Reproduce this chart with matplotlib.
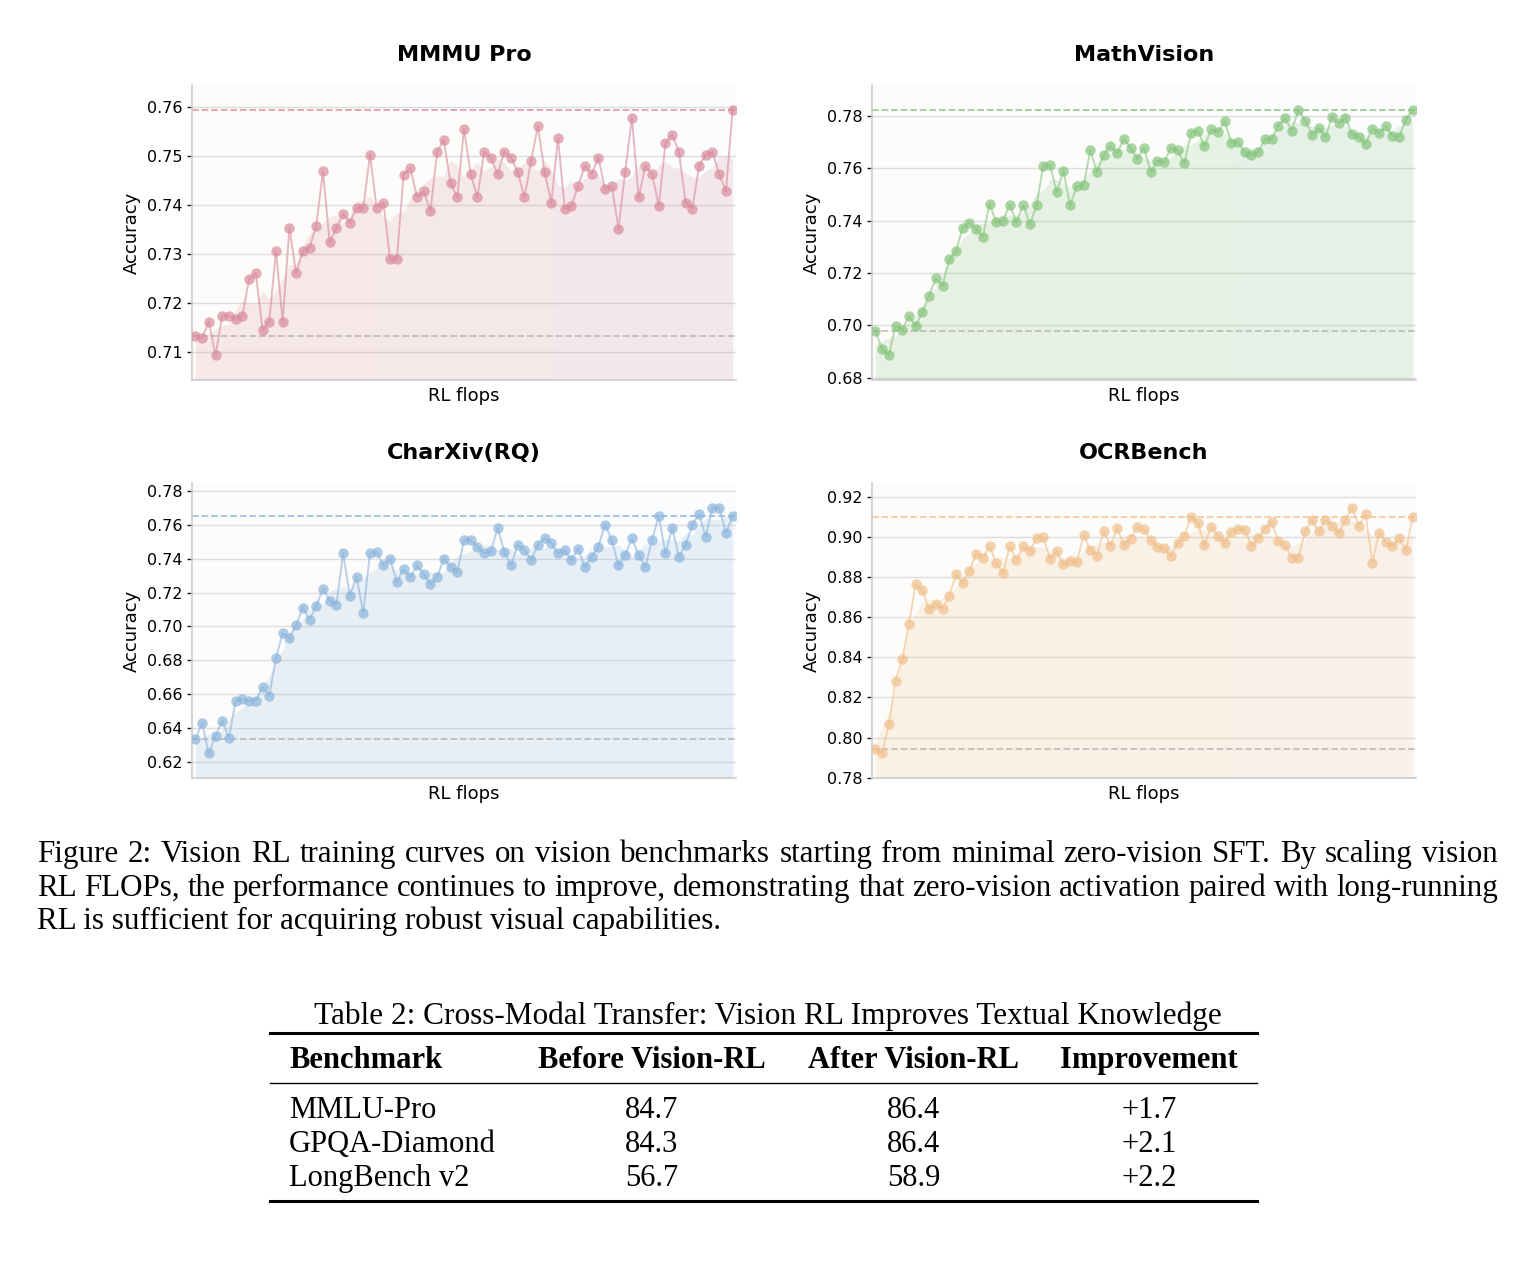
import matplotlib
matplotlib.use('Agg')
import matplotlib.pyplot as plt
import numpy as np
import pandas as pd
from matplotlib.lines import Line2D

# accuracy per RL checkpoint
mmmu_pro = [0.7133, 0.7128, 0.7162, 0.7093, 0.7174, 0.7174, 0.7167, 0.7174, 0.7249, 0.7261,
            0.7145, 0.7162, 0.7306, 0.7162, 0.7353, 0.7261, 0.7306, 0.7313, 0.7358, 0.7469,
            0.7324, 0.7353, 0.7382, 0.7364, 0.7394, 0.7394, 0.7503, 0.7394, 0.7405, 0.7289,
            0.7289, 0.7462, 0.7475, 0.7417, 0.7428, 0.7387, 0.7509, 0.7533, 0.7445, 0.7416,
            0.7555, 0.7463, 0.7416, 0.7509, 0.7497, 0.7463, 0.7509, 0.7497, 0.7468, 0.7416,
            0.7491, 0.7561, 0.7468, 0.7405, 0.7537, 0.7393, 0.7399, 0.7439, 0.7480, 0.7463,
            0.7497, 0.7433, 0.7439, 0.7352, 0.7468, 0.7578, 0.7416, 0.7480, 0.7463, 0.7399,
            0.7526, 0.7544, 0.7509, 0.7405, 0.7393, 0.7480, 0.7503, 0.7509, 0.7463, 0.7428,
            0.7595]
math_vision = [0.6980, 0.6908, 0.6885, 0.6997, 0.6982, 0.7037, 0.6997, 0.7052, 0.7112, 0.7180,
               0.7152, 0.7253, 0.7284, 0.7373, 0.7391, 0.7369, 0.7339, 0.7465, 0.7394, 0.7400,
               0.7462, 0.7394, 0.7462, 0.7386, 0.7459, 0.7611, 0.7614, 0.7511, 0.7590, 0.7459,
               0.7531, 0.7535, 0.7669, 0.7586, 0.7652, 0.7685, 0.7659, 0.7712, 0.7679, 0.7637,
               0.7678, 0.7586, 0.7629, 0.7623, 0.7678, 0.7669, 0.7619, 0.7735, 0.7745, 0.7685,
               0.7749, 0.7739, 0.7781, 0.7698, 0.7701, 0.7662, 0.7650, 0.7662, 0.7712, 0.7712,
               0.7764, 0.7792, 0.7745, 0.7824, 0.7783, 0.7729, 0.7754, 0.7721, 0.7796, 0.7773,
               0.7794, 0.7731, 0.7721, 0.7694, 0.7752, 0.7735, 0.7761, 0.7725, 0.7721, 0.7787,
               0.7825]
charxiv_rq = [0.6332, 0.6430, 0.6249, 0.6353, 0.6442, 0.6339, 0.6561, 0.6569, 0.6561, 0.6561,
              0.6642, 0.6591, 0.6811, 0.6960, 0.6930, 0.7009, 0.7111, 0.7040, 0.7121, 0.7221,
              0.7152, 0.7127, 0.7431, 0.7182, 0.7292, 0.7080, 0.7431, 0.7441, 0.7360, 0.7400,
              0.7260, 0.7341, 0.7290, 0.7360, 0.7309, 0.7250, 0.7290, 0.7400, 0.7350, 0.7321,
              0.7509, 0.7509, 0.7470, 0.7431, 0.7443, 0.7582, 0.7441, 0.7360, 0.7482, 0.7451,
              0.7392, 0.7482, 0.7521, 0.7492, 0.7431, 0.7451, 0.7392, 0.7460, 0.7350, 0.7411,
              0.7470, 0.7602, 0.7509, 0.7360, 0.7421, 0.7521, 0.7421, 0.7350, 0.7509, 0.7653,
              0.7431, 0.7582, 0.7411, 0.7482, 0.7602, 0.7663, 0.7531, 0.7702, 0.7702, 0.7553,
              0.7653]
ocrbench = [0.7943, 0.7921, 0.8066, 0.8283, 0.8391, 0.8565, 0.8764, 0.8737, 0.8639, 0.8666,
            0.8643, 0.8704, 0.8815, 0.8770, 0.8830, 0.8916, 0.8897, 0.8953, 0.8872, 0.8819,
            0.8953, 0.8887, 0.8953, 0.8931, 0.8994, 0.8999, 0.8890, 0.8928, 0.8865, 0.8882,
            0.8875, 0.9011, 0.8936, 0.8908, 0.9031, 0.8956, 0.9047, 0.8960, 0.8991, 0.9049,
            0.9039, 0.8983, 0.8950, 0.8943, 0.8906, 0.8968, 0.9006, 0.9102, 0.9072, 0.8960,
            0.9052, 0.9003, 0.8971, 0.9024, 0.9041, 0.9036, 0.8956, 0.8994, 0.9039, 0.9074,
            0.8981, 0.8961, 0.8898, 0.8898, 0.9028, 0.9084, 0.9028, 0.9086, 0.9057, 0.9019,
            0.9086, 0.9147, 0.9057, 0.9114, 0.8873, 0.9021, 0.8974, 0.8955, 0.8994, 0.8933,
            0.9102]

panel_titles = ['MMMU Pro', 'MathVision', 'CharXiv(RQ)', 'OCRBench']
panel_colors = ['#d98a9c', '#85c47c', '#8ab4dc', '#f0bf8a']
phase_colors = ['#fdfcfa', '#fcfdfb', '#fbfcfe']

caption_lines = [
    'Figure 2: Vision RL training curves on vision benchmarks starting from minimal zero-vision SFT. By scaling vision',
    'RL FLOPs, the performance continues to improve, demonstrating that zero-vision activation paired with long-running',
    'RL is sufficient for acquiring robust visual capabilities.',
]

table_title = 'Table 2: Cross-Modal Transfer: Vision RL Improves Textual Knowledge'
table_header = ['Benchmark', 'Before Vision-RL', 'After Vision-RL', 'Improvement']
table_benchmarks = ['MMLU-Pro', 'GPQA-Diamond', 'LongBench v2']
before_rl = [84.7, 84.3, 56.7]
after_rl = [86.4, 86.4, 58.9]

W, H = 1536, 1262
SERIF = 'Liberation Serif'


def draw_panel(ax, values, title, color):
    y = np.asarray(values)
    x = np.arange(len(y))
    lo, hi = y.min(), y.max()
    pad = 0.1 * (hi - lo)
    bottom = lo - pad
    ax.set_xlim(-0.5, len(y) - 0.5)
    ax.set_ylim(bottom, hi + pad)

    edges = np.linspace(-0.5, len(y) - 0.5, 4)
    for a, b, c in zip(edges[:-1], edges[1:], phase_colors):
        ax.axvspan(a, b, color=c, lw=0, zorder=0)

    smooth = pd.Series(y).rolling(5, center=True, min_periods=1).mean()
    ax.fill_between(x, smooth, bottom, color=color, alpha=0.18, lw=0, zorder=1)

    ax.axhline(y[0], color='#aaaaaa', ls='--', lw=1.3, alpha=0.7, zorder=2)
    ax.axhline(y[-1], color=color, ls='--', lw=1.3, alpha=0.8, zorder=2)
    ax.plot(x, y, '-', color=color, lw=1.4, alpha=0.6, zorder=3)
    ax.plot(x, y, 'o', color=color, ms=7.5, mew=0, alpha=0.7, zorder=3)

    ax.grid(axis='y', color='#dddddd', lw=1)
    ax.set_axisbelow(True)
    for s in ['top', 'right']:
        ax.spines[s].set_visible(False)
    for s in ['left', 'bottom']:
        ax.spines[s].set_color('#cccccc')
        ax.spines[s].set_linewidth(1.2)
    ax.set_xticks([])
    ax.tick_params(axis='y', labelsize=11.5, length=3.5, width=1, color='#222222')
    ax.set_xlabel('RL flops', fontsize=13, labelpad=5)
    ax.set_ylabel('Accuracy', fontsize=13)
    ax.set_title(title, fontsize=16, fontweight='bold', pad=17)


def px(x, y):
    return x / W, 1 - y / H


fig = plt.figure(figsize=(W / 100, H / 100), dpi=100)
fig.patch.set_facecolor('white')

panels = [mmmu_pro, math_vision, charxiv_rq, ocrbench]
lefts = [192, 872, 192, 872]
tops = [85, 85, 483, 483]
for vals, title, color, l, t in zip(panels, panel_titles, panel_colors, lefts, tops):
    ax = fig.add_axes([l / W, 1 - (t + 295) / H, 544 / W, 295 / H])
    draw_panel(ax, vals, title, color)

renderer = fig.canvas.get_renderer()

# caption, justified like the page
cap_size = 22.3
baselines = [862, 896, 929]
x0, x1 = 37, 1498
for i, (line, yb) in enumerate(zip(caption_lines, baselines)):
    if i == len(caption_lines) - 1:
        fig.text(*px(x0, yb), line, fontsize=cap_size, family=SERIF, va='baseline')
        continue
    words = line.split()
    texts = [fig.text(0, px(0, yb)[1], w, fontsize=cap_size, family=SERIF, va='baseline')
             for w in words]
    widths = [t.get_window_extent(renderer).width for t in texts]
    gap = (x1 - x0 - sum(widths)) / (len(words) - 1)
    xpos = x0
    for t, w in zip(texts, widths):
        t.set_x(xpos / W)
        xpos += w + gap

# table
tab_size = 22
fig.text(*px(768, 1024), table_title, fontsize=22.5, family=SERIF,
         ha='center', va='baseline')
for yy, lw in [(1033, 2.2), (1083, 1.0), (1201, 2.2)]:
    fig.add_artist(Line2D([270 / W, 1257 / W], [1 - yy / H] * 2, color='black', lw=lw))

col_x = [289, 652, 914, 1149]
col_ha = ['left', 'center', 'center', 'center']
for label, cx, ha in zip(table_header, col_x, col_ha):
    fig.text(*px(cx, 1068), label, fontsize=tab_size, family=SERIF, fontweight='bold',
             ha=ha, va='baseline')

row_y = [1118, 1152, 1186]
for name, b, a, ry in zip(table_benchmarks, before_rl, after_rl, row_y):
    cells = [name, f'{b:.1f}', f'{a:.1f}', f'{a - b:+.1f}']
    for cell, cx, ha in zip(cells, col_x, col_ha):
        fig.text(*px(cx, ry), cell, fontsize=tab_size, family=SERIF, ha=ha, va='baseline')

fig.savefig('out.png', dpi=100)
